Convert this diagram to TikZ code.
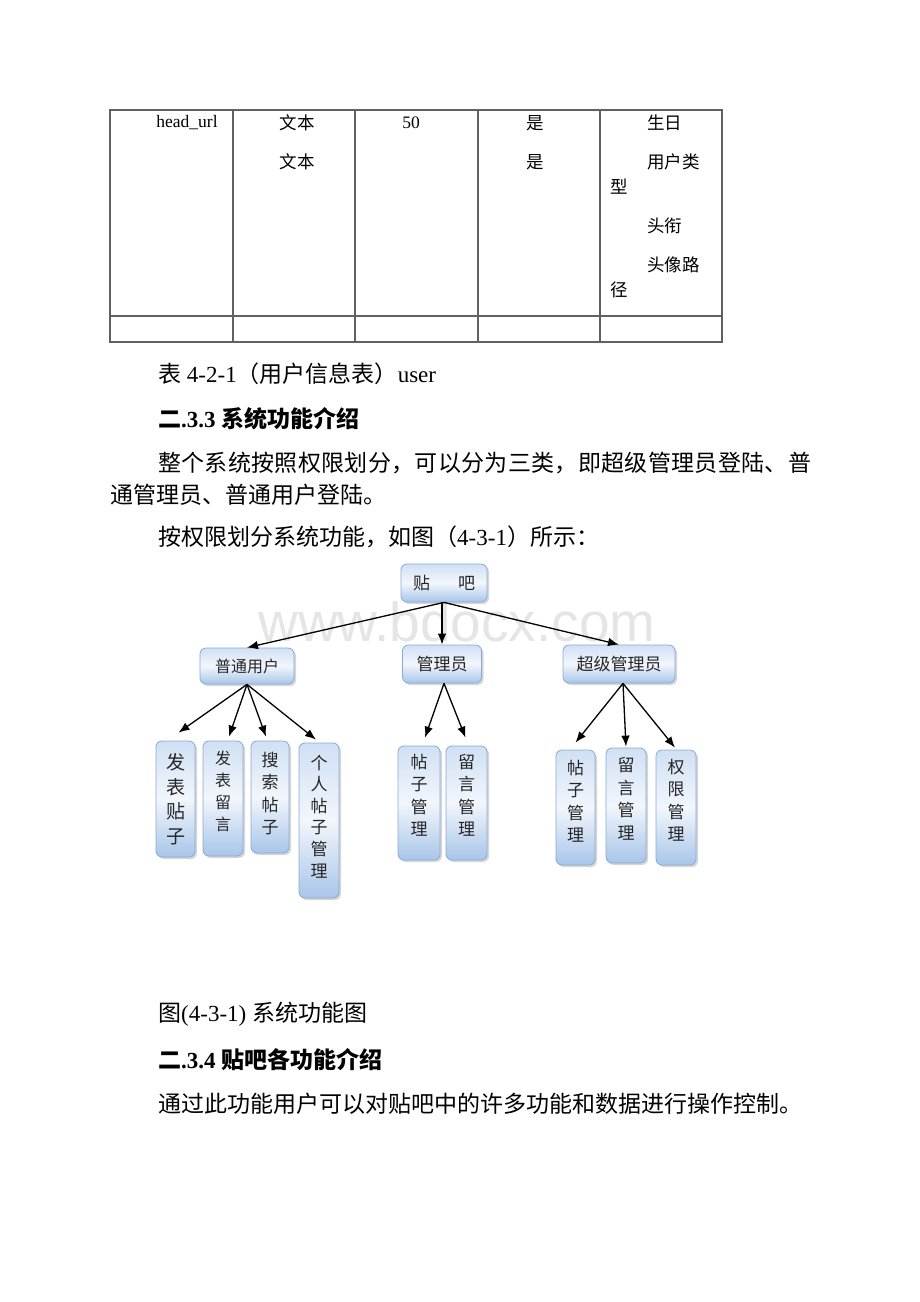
\documentclass[tikz,border=0pt]{standalone}
\usepackage{fontspec}
\setmainfont{Liberation Serif}
\newfontfamily\cjk{Noto Sans CJK SC}
\newfontfamily\wmfont{Liberation Sans}
\usetikzlibrary{shadows,arrows.meta,calc}
\definecolor{boxborder}{RGB}{135,170,212}
\definecolor{boxtop}{RGB}{208,224,244}
\definecolor{boxmid}{RGB}{242,246,252}
\definecolor{boxbot}{RGB}{168,197,233}
\newcommand\zh[1]{{\cjk #1}}
\def\zhspread#1{#1\zhspreadi}
\def\zhspreadi#1{\ifx#1\relax\else\hfill#1\expandafter\zhspreadi\fi}
\tikzset{
  pbox/.style={draw=boxborder, line width=0.8pt, rounded corners=6pt,
    top color=boxtop, bottom color=boxbot, middle color=boxmid,
    drop shadow={shadow xshift=2pt, shadow yshift=-2pt, fill=black!35, opacity=0.45},
    text=black!85, inner sep=0pt},
  hbox/.style={pbox, minimum height=37pt, font=\cjk\fontsize{16}{18}\selectfont},
  vbox/.style={pbox, align=center, font=\cjk\fontsize{17}{22.5}\selectfont},
  arr/.style={-{Latex[length=11pt,width=8.5pt]}, line width=1.3pt},
  body/.style={anchor=west, inner sep=0pt, font=\fontsize{23}{28}\selectfont},
  bodybf/.style={body, font=\bfseries\fontsize{23}{28}\selectfont},
  tab/.style={inner sep=0pt, font=\fontsize{17.5}{20}\selectfont},
  tabw/.style={tab, anchor=west},
  rule/.style={draw=black!62, line width=1.1pt}
}
\begin{document}
\begin{tikzpicture}[x=1pt,y=-1pt]
\useasboundingbox[fill=white] (0,0) rectangle (920,1302);

% ---------- table ----------
\draw[rule] (110,110) rectangle (722,342);
\draw[rule] (110,316) -- (722,316);
\foreach \cx in {233,355,478,600} {\draw[rule] (\cx,110) -- (\cx,342);}
\node[tab] (h1) at (187,123) {head\_url};
\node[tab] (h2) at (297,123) {\zh{文本}};
\node[tab] (h3) at (297,162) {\zh{文本}};
\node[tab] (h4) at (411,123) {50};
\node[tab] (h5) at (535,123) {\zh{是}};
\node[tab] (h6) at (535,162) {\zh{是}};
\node[tabw] (h7) at (647,123) {\zh{生日}};
\node[tabw] (h8) at (647,162) {\zh{用户类}};
\node[tabw] (h9) at (610,187) {\zh{型}};
\node[tabw] (h10) at (647,226) {\zh{头衔}};
\node[tabw] (h11) at (647,265) {\zh{头像路}};
\node[tabw] (h12) at (610,290) {\zh{径}};

% ---------- body text ----------
\node[body] (t1) at (158,374) {\zh{表} 4-2-1\zh{（用户信息表）}user};
\node[bodybf] (t2) at (158,419) {\zh{二}.3.3 \zh{系统功能介绍}};
\node[body] (t3) at (158,463) {\makebox[653pt][l]{\cjk\zhspread 整个系统按照权限划分，可以分为三类，即超级管理员登陆、普\relax}};
\node[body] (t4) at (110,495) {\zh{通管理员、普通用户登陆。}};
\node[body] (t5) at (158,537) {\zh{按权限划分系统功能，如图（}4-3-1\zh{）所示：}};
\node[body] (t6) at (158,1014) {\zh{图}(4-3-1) \zh{系统功能图}};
\node[bodybf] (t7) at (158,1060) {\zh{二}.3.4 \zh{贴吧各功能介绍}};
\node[body] (t8) at (158,1104) {\zh{通过此功能用户可以对贴吧中的许多功能和数据进行操作控制。}};

% ---------- watermark ----------
\node[anchor=base, inner sep=0pt, text=black!10, font=\wmfont\fontsize{55}{58}\selectfont] (wm) at (457,641) {www.bdocx.com};

% ---------- diagram ----------
\node[hbox, minimum width=86pt, minimum height=38pt, font=\cjk\fontsize{17}{19}\selectfont] (tb) at (444,583) {贴\hspace{28pt}吧};
\node[hbox, minimum width=94pt, minimum height=36pt] (pt) at (247,666) {普通用户};
\node[hbox, minimum width=79pt, minimum height=38pt, font=\cjk\fontsize{17}{19}\selectfont] (gl) at (442,664) {管理员};
\node[hbox, minimum width=112pt, minimum height=38pt, font=\cjk\fontsize{17}{19}\selectfont] (cj) at (619,664) {超级管理员};

\node[vbox, minimum width=39pt, minimum height=116pt, font=\cjk\fontsize{19}{24.5}\selectfont] (a1) at (175.5,799) {发\\表\\贴\\子};
\node[vbox, minimum width=40pt, minimum height=115pt, font=\cjk\fontsize{16}{22}\selectfont] (a2) at (223,798.5) {发\\表\\留\\言\\[-7pt]};
\node[vbox, minimum width=38pt, minimum height=112pt] (a3) at (270,797) {搜\\索\\帖\\子\\[-14pt]};
\node[vbox, minimum width=40pt, minimum height=155pt, font=\cjk\fontsize{17}{21.6}\selectfont] (a4) at (319,820.5) {个\\人\\帖\\子\\管\\理\\[-12.6pt]};

\node[vbox, minimum width=42pt, minimum height=114pt] (b1) at (419,803) {帖\\子\\管\\理\\[-6pt]};
\node[vbox, minimum width=41pt, minimum height=114pt] (b2) at (466.5,803) {留\\言\\管\\理\\[-6pt]};

\node[vbox, minimum width=39pt, minimum height=115pt] (c1) at (575.5,807.5) {帖\\子\\管\\理\\[-9pt]};
\node[vbox, minimum width=40pt, minimum height=115pt] (c2) at (626,805.5) {留\\言\\管\\理\\[-8pt]};
\node[vbox, minimum width=40pt, minimum height=115pt] (c3) at (676,807.5) {权\\限\\管\\理\\[-7pt]};

% ---------- connectors ----------
\draw[arr] (tb.south) -- (pt.north);
\draw[arr] (gl.north |- tb.south) -- (gl.north);
\draw[arr] (tb.south) -- (cj.north);

\draw[arr] (pt.south) -- ([shift={(3,-8)}]a1.north);
\draw[arr] (pt.south) -- ([shift={(6,-4)}]a2.north);
\draw[arr] (pt.south) -- ([shift={(-4,-4)}]a3.north);
\draw[arr] (pt.south) -- ([shift={(-3,-3)}]a4.north);

\draw[arr] ([xshift=2pt]gl.south) -- ([shift={(6,-8)}]b1.north);
\draw[arr] ([xshift=2pt]gl.south) -- ([shift={(-1,-8)}]b2.north);

\draw[arr] ([xshift=4pt]cj.south) -- ([shift={(0,-7)}]c1.north);
\draw[arr] ([xshift=4pt]cj.south) -- ([shift={(0,-1)}]c2.north);
\draw[arr] ([xshift=4pt]cj.south) -- ([shift={(-1,-2)}]c3.north);
\end{tikzpicture}
\end{document}
